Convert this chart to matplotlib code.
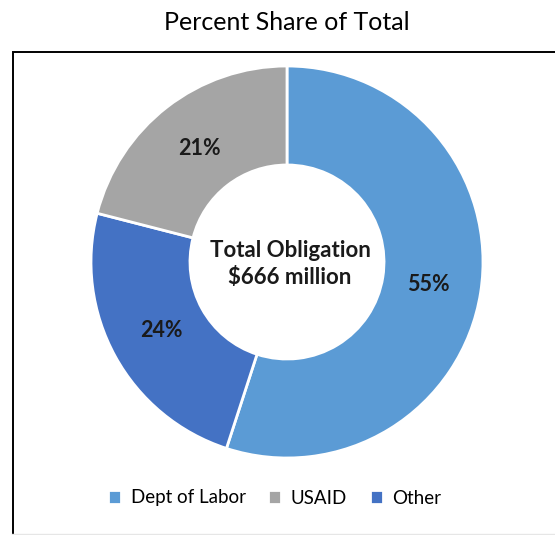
import matplotlib
matplotlib.use("Agg")
import matplotlib.pyplot as plt
from matplotlib.patches import Rectangle

# data (clockwise from top)
agencies = ["Dept of Labor", "Other", "USAID"]
shares = [55, 24, 21]
colors = ["#5B9BD5", "#4472C4", "#A5A5A5"]
legend_order = ["Dept of Labor", "USAID", "Other"]

W, H = 555, 535
fig = plt.figure(figsize=(W / 100, H / 100), dpi=100)
ax = fig.add_axes([0, 0, 1, 1])
ax.set_xlim(0, W)
ax.set_ylim(0, H)
ax.axis("off")

plt.rcParams['font.family'] = ['Lato', 'DejaVu Sans']

# frame box
ax.add_patch(Rectangle((12.5, -10), 600, H - 52 + 10, fill=False,
                       edgecolor="black", linewidth=1.4))
ax.plot([12, W], [1.5, 1.5], color="#e6e6e6", lw=1)

fig.text(0.517, 1 - 23 / H, "Percent Share of Total", ha="center", va="center",
         fontsize=18, family=['Lato', 'DejaVu Sans'])

cx, cy, r = 287, H - 262, 196
wedges, texts, autotexts = ax.pie(
    shares, colors=colors, startangle=90, counterclock=False,
    center=(cx, cy), radius=r, frame=True,
    wedgeprops=dict(width=r * 0.505, edgecolor="white", linewidth=2),
    autopct="%d%%", pctdistance=0.73,
    textprops=dict(fontsize=15.5, fontweight="bold", color="#1a1a1a"))
ax.set_xlim(0, W)
ax.set_ylim(0, H)
ax.set_aspect("auto")
ax.axis("off")

ax.text(cx + 3, cy - 2, "Total Obligation\n$666 million", ha="center", va="center",
        fontsize=16, fontweight="bold", linespacing=1.3, color="#1a1a1a")

handles = [wedges[agencies.index(a)] for a in legend_order]
fig.legend(handles, legend_order, loc="center", bbox_to_anchor=(0.495, 1 - 498 / H),
           ncol=3, frameon=False, fontsize=13.5, handlelength=0.7, handleheight=0.7,
           columnspacing=1.2, handletextpad=0.5)

fig.savefig("out.png", dpi=100)
